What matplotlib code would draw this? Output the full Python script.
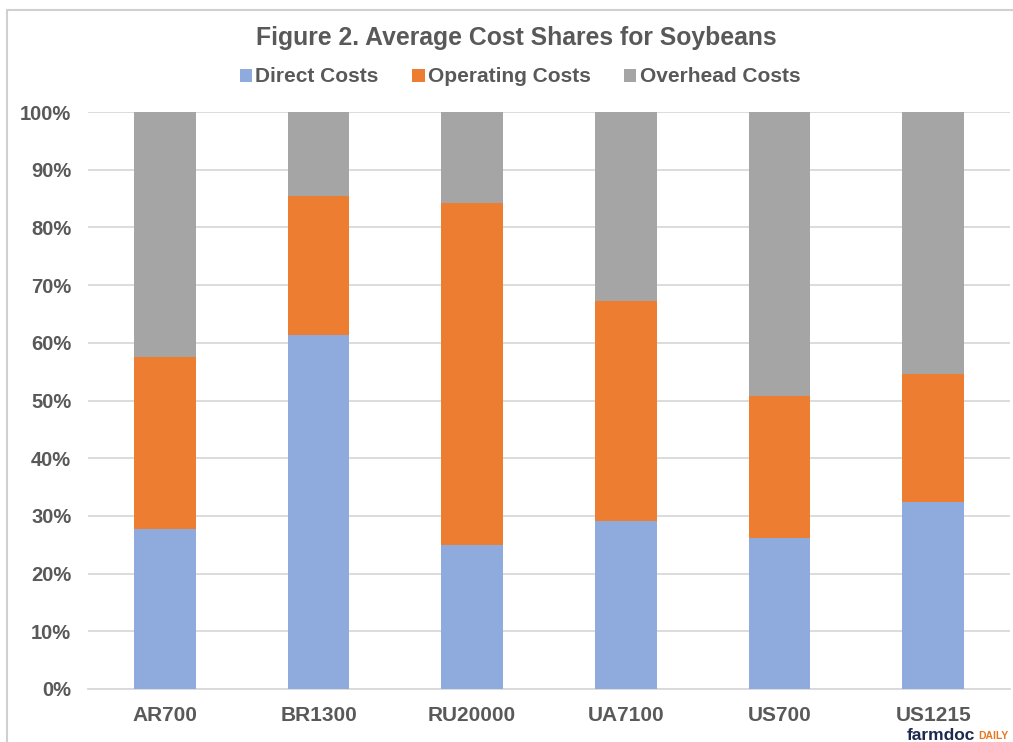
import numpy as np
import matplotlib.pyplot as plt
from matplotlib.patches import Rectangle
from matplotlib.ticker import PercentFormatter

plt.rcParams['font.family'] = ['Liberation Sans', 'DejaVu Sans']

# data (shares in %)
categories = ['AR700', 'BR1300', 'RU20000', 'UA7100', 'US700', 'US1215']
direct = [27.7, 61.4, 25.0, 29.1, 26.2, 32.4]
operating_top = [57.5, 85.5, 84.2, 67.2, 50.8, 54.6]
operating = [o - d for o, d in zip(operating_top, direct)]
overhead = [100 - o for o in operating_top]

series_names = ['Direct Costs', 'Operating Costs', 'Overhead Costs']
colors = ['#8faadc', '#ed7d31', '#a5a5a5']
text_col = '#595959'

fig = plt.figure(figsize=(10.13, 7.42), dpi=100)
ax = fig.add_axes([88 / 1013, 1 - 689 / 742, (1010 - 88) / 1013, (689 - 112) / 742])

x = np.arange(len(categories))
w = 0.4
ax.bar(x, direct, w, color=colors[0], label=series_names[0], zorder=3)
ax.bar(x, operating, w, bottom=direct, color=colors[1], label=series_names[1], zorder=3)
ax.bar(x, overhead, w, bottom=operating_top, color=colors[2], label=series_names[2], zorder=3)

ax.set_xlim(-0.5, len(categories) - 0.5)
ax.set_ylim(0, 100)
ax.set_yticks(np.arange(0, 101, 10))
ax.yaxis.set_major_formatter(PercentFormatter(decimals=0))
ax.set_xticks(x)
ax.set_xticklabels(categories)
ax.grid(axis='y', color='#d9d9d9', linewidth=1.3, zorder=0)
for s in ['left', 'right', 'top']:
    ax.spines[s].set_visible(False)
ax.spines['bottom'].set_color('#d9d9d9')
ax.spines['bottom'].set_linewidth(1.3)
ax.tick_params(length=0, labelsize=15, labelcolor=text_col)
ax.tick_params(axis='y', labelsize=14.5, pad=12)
ax.tick_params(axis='x', pad=12)
for lab in ax.get_xticklabels() + ax.get_yticklabels():
    lab.set_fontweight('bold')

fig.text(516 / 1013, 1 - 38 / 742, 'Figure 2. Average Cost Shares for Soybeans',
         ha='center', va='center', fontsize=17.8, fontweight='bold', color=text_col)

leg = fig.legend(loc='center', bbox_to_anchor=(520 / 1013, 1 - 77 / 742), ncol=3,
                 frameon=False, handlelength=0.6, handleheight=0.6, handletextpad=0.15,
                 columnspacing=1.6, prop={'size': 15, 'weight': 'bold'})
for t in leg.get_texts():
    t.set_color(text_col)

# chart border
fig.patches.append(Rectangle((7 / 1013, -0.1), 1.2, 1 - 10 / 742 + 0.1, transform=fig.transFigure,
                             fill=False, edgecolor='#d0d0d0', linewidth=1.5))

# logo
fig.text(907 / 1013, 1 - 735 / 742, 'farmdoc', ha='left', va='center', fontsize=12.5,
         fontweight='bold', color='#1c2a50')
fig.text(978 / 1013, 1 - 736 / 742, 'DAILY', ha='left', va='center', fontsize=7.5,
         fontweight='bold', color='#e87722')

fig.savefig('out.png', dpi=100)
